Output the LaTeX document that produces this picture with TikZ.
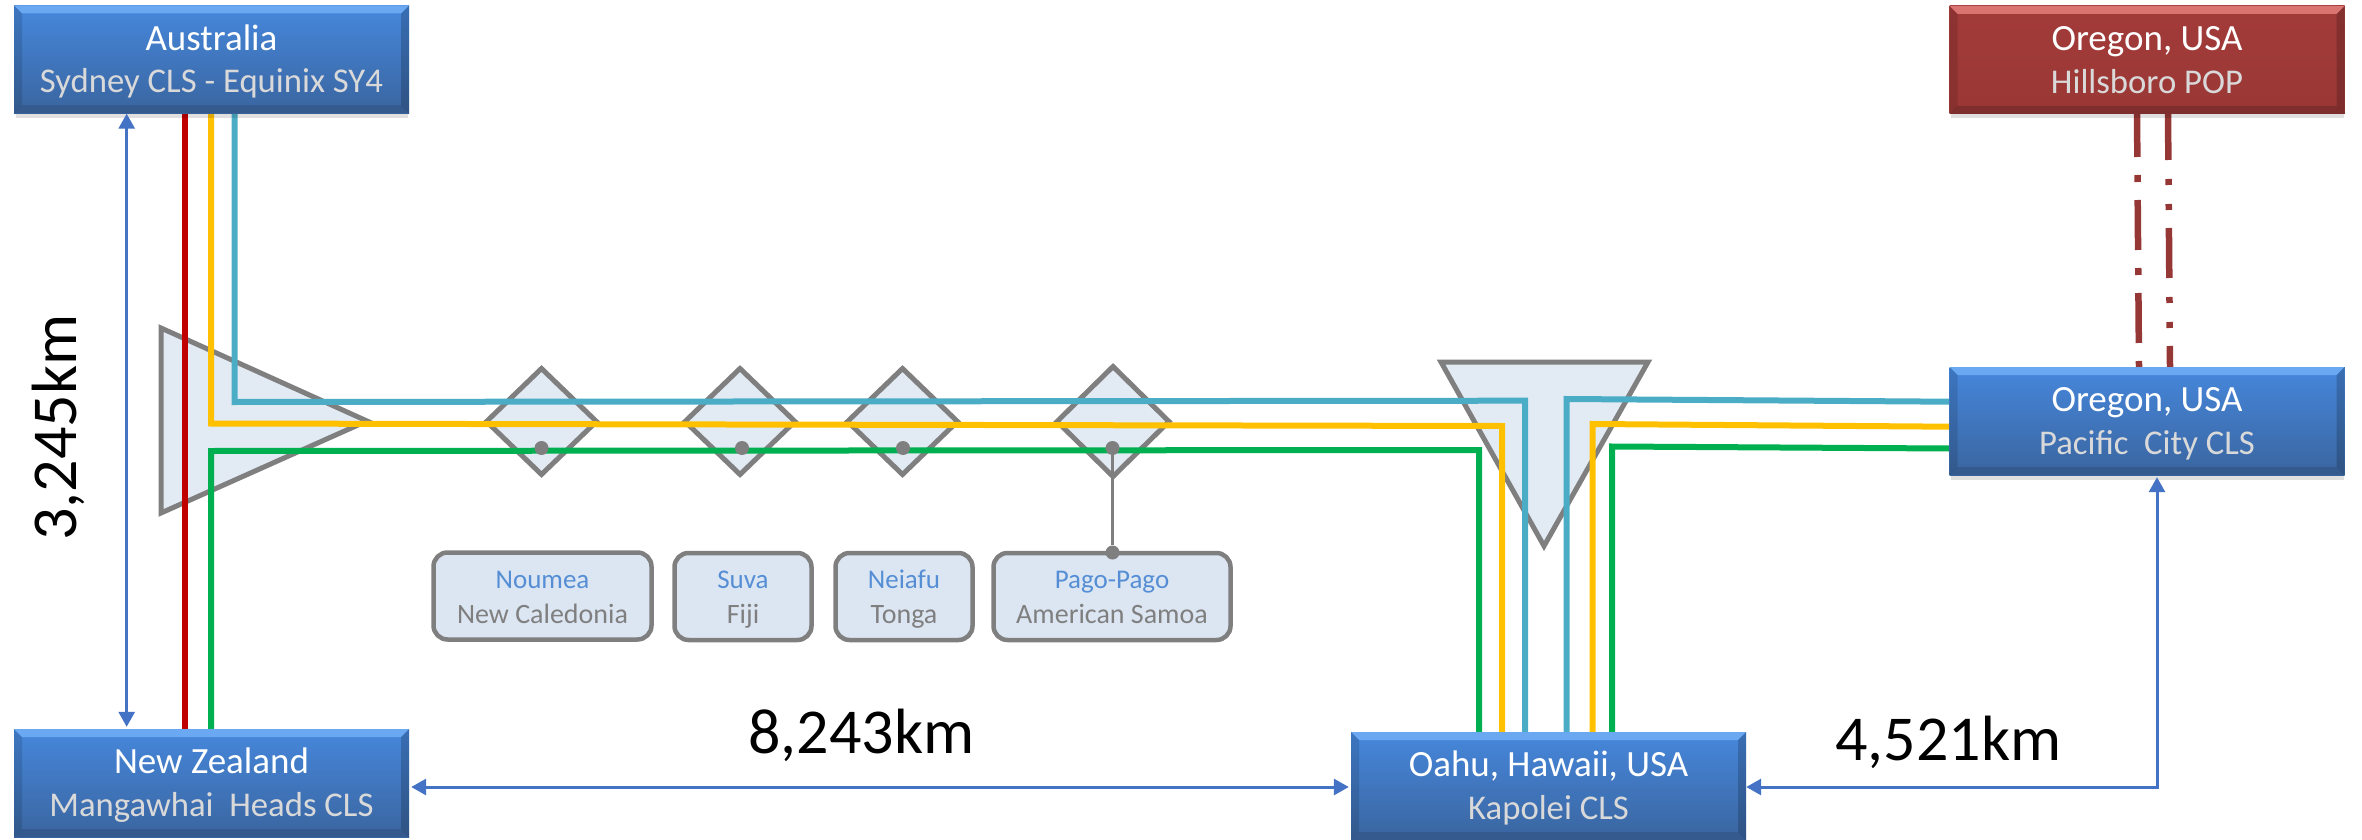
\documentclass[tikz,border=0pt]{standalone}
\usepackage{fontspec}
\setmainfont{Carlito}
\usetikzlibrary{shapes.geometric,arrows.meta,calc}
\definecolor{cRed}{HTML}{C00000}
\definecolor{cYel}{HTML}{FFC000}
\definecolor{cTeal}{HTML}{4BACC6}
\definecolor{cGrn}{HTML}{00B050}
\definecolor{cGray}{HTML}{7F7F7F}
\definecolor{cFill}{HTML}{E2EAF4}
\definecolor{cSite}{HTML}{DCE6F2}
\definecolor{cDim}{HTML}{4472C4}
\definecolor{cSiteTxt}{HTML}{558ED5}
\definecolor{cSub}{HTML}{D9D9D9}
\definecolor{cMaroon}{HTML}{953735}
\definecolor{bTop}{HTML}{4687DC}
\definecolor{bBot}{HTML}{3A659F}
\definecolor{bHi}{HTML}{6BA8F2}
\definecolor{bLo}{HTML}{345A8E}
\definecolor{rTop}{HTML}{A23B39}
\definecolor{rBot}{HTML}{9A3836}
\definecolor{rHi}{HTML}{D97471}
\definecolor{rLo}{HTML}{7E2F2D}
\newcommand{\ppbb}{path picture bounding box}
\newcommand{\mainlines}[2]{\rule{0pt}{34pt}#1\\{\color{cSub}\fontsize{34.7}{42.5}\selectfont #2\rule[-10pt]{0pt}{10pt}}}
\newcommand{\sitelines}[2]{\rule{0pt}{27pt}{\color{cSiteTxt}\fontsize{27}{35}\selectfont #1}\\#2\rule[-8pt]{0pt}{8pt}}
\tikzset{
  bevelbox/.style n args={4}{rectangle, minimum width=395pt, minimum height=108pt, inner sep=0pt,
    align=center, text=white, font=\fontsize{37}{42.5}\selectfont,
    path picture={
      \fill[top color=#1,bottom color=#2] (\ppbb.north west) rectangle (\ppbb.south east);
      \fill[#3] (\ppbb.north west) -- (\ppbb.north east) -- ($(\ppbb.north east)+(-8,8)$) -- ($(\ppbb.north west)+(8,8)$) -- cycle;
      \fill[#4] (\ppbb.south west) -- (\ppbb.south east) -- ($(\ppbb.south east)+(-8,-8)$) -- ($(\ppbb.south west)+(8,-8)$) -- cycle;
      \fill[black,opacity=.12] (\ppbb.north west) -- ($(\ppbb.north west)+(8,8)$) -- ($(\ppbb.south west)+(8,-8)$) -- (\ppbb.south west) -- cycle;
      \fill[black,opacity=.18] (\ppbb.north east) -- ($(\ppbb.north east)+(-8,8)$) -- ($(\ppbb.south east)+(-8,-8)$) -- (\ppbb.south east) -- cycle;
    }},
  bluebox/.style={bevelbox={bTop}{bBot}{bHi}{bLo}},
  redbox/.style={bevelbox={rTop}{rBot}{rHi}{rLo}},
  sitebox/.style={rectangle, rounded corners=14pt, draw=cGray, line width=4.5pt, fill=cSite,
    inner sep=0pt, align=center, minimum height=87pt, font=\fontsize{28}{35}\selectfont, text=cGray},
  tri/.style={draw=cGray, line width=5pt, fill=cFill, line join=miter},
  stn/.style={diamond, aspect=1, draw=cGray, line width=5pt, fill=cFill, inner sep=0pt, minimum width=112pt, minimum height=108pt},
  pin/.style={circle, fill=cGray, inner sep=0pt, minimum size=14pt},
  track/.style={line width=6pt, line join=miter},
  dimline/.style={draw=cDim, line width=3pt, {Triangle[width=16pt,length=15pt]}-{Triangle[width=16pt,length=15pt]}},
  biglabel/.style={inner sep=0pt, text=black, font=\fontsize{64}{64}\selectfont},
  popA/.style={draw=cMaroon, line width=6.5pt, dash pattern=on 50pt off 18pt on 7pt off 18pt, dash phase=7pt},
  popB/.style={draw=cMaroon, line width=6.5pt, dash pattern=on 50pt off 19pt on 6pt off 19pt on 6pt off 18pt, dash phase=4pt},
}
\begin{document}
\begin{tikzpicture}[x=1pt,y=-1pt]
\useasboundingbox (0,0) rectangle (2362,840);
% branching units
\coordinate (tlA) at (161,328); \coordinate (tlB) at (161,513); \coordinate (tlC) at (367,421);
\draw[tri] (tlA) -- (tlC) -- (tlB) -- cycle;
\coordinate (trA) at (1441,362); \coordinate (trB) at (1648,362); \coordinate (trC) at (1544,546);
\draw[tri] (trA) -- (trB) -- (trC) -- cycle;
% stations
\node[stn] (d1) at (541.5,421.5) {};
\node[stn] (d2) at (740,421.5) {};
\node[stn] (d3) at (902.5,421.5) {};
\node[stn,minimum width=114pt,minimum height=112pt] (d4) at (1113,421.5) {};
% box positions
\path (211.5,59.5) coordinate (ausC) (211.5,783) coordinate (nzC) (1548.5,786) coordinate (oahC)
      (2147,421) coordinate (oreC) (2147,60) coordinate (hilC);
\coordinate (ausS) at (0,113); \coordinate (nzN) at (0,729); \coordinate (oahN) at (0,732); \coordinate (oreW) at (1949,0);
% tracks
\draw[track,cRed] (185,0 |- ausS) -- (185,0 |- nzN);
\draw[track,cYel] (211,0 |- ausS) -- (211,423.5) -- (1502,426) -- (1502,0 |- oahN);
\draw[track,cTeal] (234.5,0 |- ausS) -- (234.5,402) -- (1525,400.7) -- (1525,0 |- oahN);
\draw[track,cGrn] (211,0 |- nzN) -- (211,451) -- (1479,450) -- (1479,0 |- oahN);
\draw[track,cTeal] (1566.5,0 |- oahN) -- (1566.5,399) -- (oreW |- 0,401.7);
\draw[track,cYel] (1592.5,0 |- oahN) -- (1592.5,424) -- (oreW |- 0,426.7);
\draw[track,cGrn] (1612,0 |- oahN) -- (1612,446.5) -- (oreW |- 0,448.5);
% Hillsboro links
\draw[popA] (2137,114) -- (2139,367);
\draw[popB] (2168,114) -- (2170,367);
% site boxes
\node[sitebox,minimum width=218pt] (noumea) at (542.5,596) {\sitelines{Noumea}{New Caledonia}};
\node[sitebox,minimum width=137pt] (suva) at (743,596.5) {\sitelines{Suva}{Fiji}};
\node[sitebox,minimum width=137pt] (neiafu) at (904,596.5) {\sitelines{Neiafu}{Tonga}};
\node[sitebox,minimum width=237pt] (pago) at (1112,596.5) {\sitelines{Pago-Pago}{American Samoa}};
% pins
\node[pin] (p1) at (541.5,448) {};
\node[pin] (p2) at (742,448) {};
\node[pin] (p3) at (903,448) {};
\node[pin] (p4) at (1112.5,448) {};
\node[pin] (p5) at (1112.5,552.5) {};
\draw[cGray,line width=2.5pt] (p4) -- (p5);
% main boxes
\fill[black,opacity=.12] (16,113.5) rectangle (408,118);
\fill[black,opacity=.12] (1951,114) rectangle (2344,118.5);
\fill[black,opacity=.12] (1951,475) rectangle (2344,479.5);
\node[bluebox] (aus) at (ausC) {\mainlines{Australia}{Sydney CLS - Equinix SY4}};
\node[bluebox] (nz) at (nzC) {\mainlines{New Zealand}{Mangawhai~ Heads CLS}};
\node[bluebox] (oahu) at (oahC) {\mainlines{Oahu, Hawaii, USA}{Kapolei CLS}};
\node[bluebox] (ore) at (oreC) {\mainlines{Oregon, USA}{Pacific~ City CLS}};
\node[redbox] (hil) at (hilC) {\mainlines{Oregon, USA}{Hillsboro POP}};
% dimensions
\coordinate (vx) at (126.7,0);
\coordinate (hy) at (0,787);
\coordinate (rx) at (2157,0);
\draw[dimline] (vx |- aus.south) -- ($(vx |- nz.north)+(0,-2)$);
\draw[dimline] ($(nz.east |- hy)+(2,0)$) -- ($(oahu.west |- hy)+(-2,0)$);
\draw[dimline] (oahu.east |- hy) -- (rx |- hy) -- ($(rx |- ore.south)+(0,2)$);
\node[biglabel,rotate=90,anchor=base] (l1) at (76,427.5) {3,245km};
\node[biglabel,anchor=base] (l2) at (861.5,753) {8,243km};
\node[biglabel,anchor=base] (l3) at (1948.5,760) {4,521km};
\end{tikzpicture}
\end{document}
